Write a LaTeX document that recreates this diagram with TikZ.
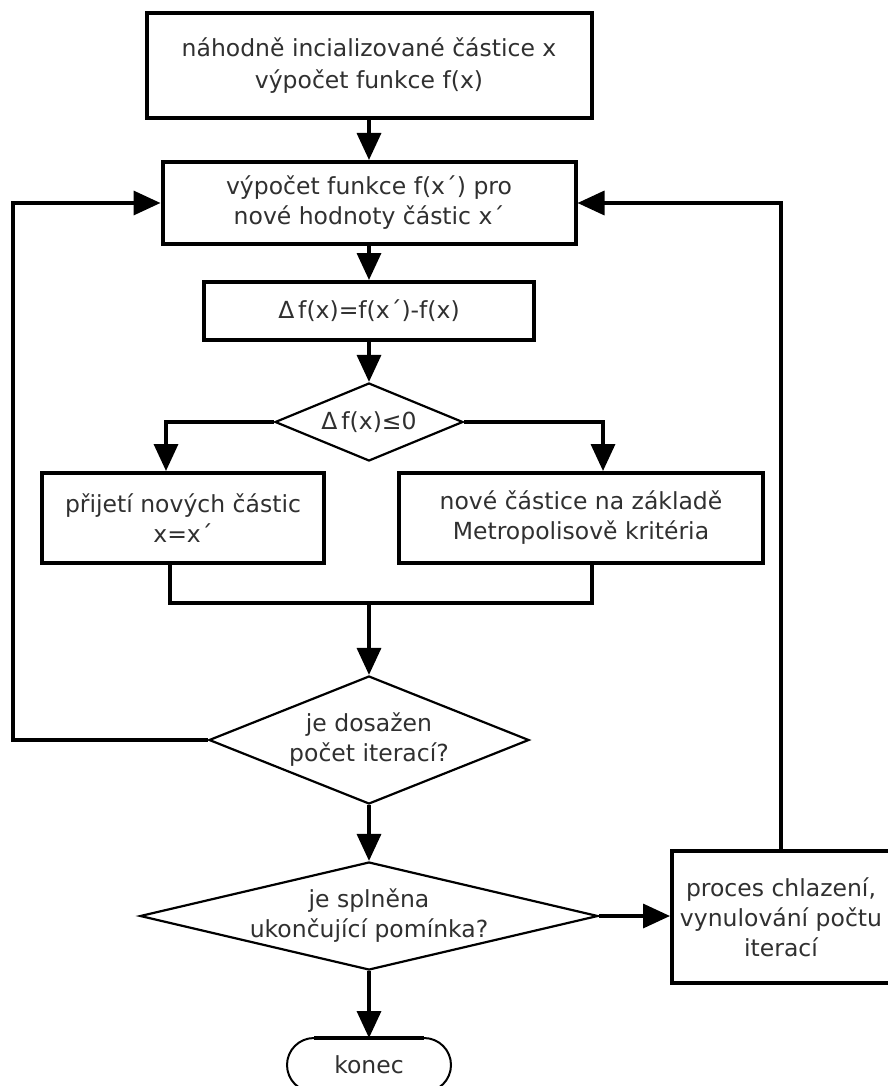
\documentclass[tikz,border=0pt]{standalone}
\usepackage{fontspec}
\setmainfont{DejaVu Sans}
\usetikzlibrary{arrows.meta,shapes.geometric}
\definecolor{txtcol}{RGB}{48,48,48}
\begin{document}
\begin{tikzpicture}[x=1pt,y=-1pt,
  every node/.style={font=\fontsize{23.5}{30}\selectfont, text=txtcol},
  box/.style={draw, line width=4pt, rectangle, align=center, inner sep=2pt},
  dia/.style={draw, line width=2.2pt, diamond, inner sep=0pt},
  conn/.style={line width=3.5pt},
  arr/.style={conn, -{Triangle[length=27pt,width=24pt]}},
]
\useasboundingbox (0,0) rectangle (888,1086);
\fill[white] (0,0) rectangle (888,1086);
\begin{scope}
\clip (0,0) rectangle (888,1086);
% boxes
\node[box, minimum width=445pt, minimum height=105pt, font=\fontsize{23.5}{32}\selectfont] (b1) at (369,65.5) {náhodně incializované částice x\\výpočet funkce f(x)};
\node[box, minimum width=413pt, minimum height=82pt] (b2) at (369,203) {výpočet funkce f(x´) pro\\nové hodnoty částic x´};
\node[box, minimum width=330pt, minimum height=58pt] (b3) at (369,311) {Δ\,f(x)=f(x´)-f(x)};
\node[dia, minimum width=188pt, minimum height=78pt] (d1) at (369,422) {};
\node (d1t) at (d1) {Δ\,f(x)≤0};
\node[box, minimum width=282pt, minimum height=90pt] (b4) at (183,518) {přijetí nových částic\\x=x´};
\node[box, minimum width=364pt, minimum height=90pt] (b5) at (581,518) {nové částice na základě\\Metropolisově kritéria};
\node[dia, minimum width=320pt, minimum height=128pt] (d2) at (369,740) {};
\node (d2t) at (d2) [align=center] {je dosažen\\počet iterací?};
\node[dia, minimum width=458pt, minimum height=108pt] (d3) at (369,916) {};
\node (d3t) at (d3) [align=center] {je splněna\\ukončující pomínka?};
\node[box, minimum width=218pt, minimum height=132pt] (r) at (781,917) {proces chlazení,\\vynulování počtu\\iterací};
\node[draw, line width=2pt, rectangle, rounded corners=27pt, minimum width=164pt, minimum height=54pt, inner sep=0pt, outer sep=0pt] (k) at (369,1065) {konec};
\draw[line width=4pt] ([xshift=27pt]k.north west) -- ([xshift=-27pt]k.north east);
% connectors
\draw[arr] (b1) -- (b2);
\draw[arr] (b2) -- (b3);
\draw[arr] (b3) -- (d1);
\draw[arr] (d1.west) -| ([xshift=-17pt]b4.north);
\draw[arr] (d1.east) -| ([xshift=22pt]b5.north);
\coordinate (m) at (369,603);
\draw[conn] ([xshift=-13pt]b4.south) |- (m);
\draw[conn] ([xshift=11pt]b5.south) |- (m);
\draw[arr] (m) -- (d2.north);
\coordinate (lc) at (13,203);
\draw[arr] (d2.west) -| (lc) -- (b2.west);
\draw[arr] (d2.south) -- (d3.north);
\draw[arr] (d3.east) -- (d3.east -| r.west);
\draw[arr] (r.north) |- (b2.east);
\draw[arr] (d3.south) -- (k.north);
\end{scope}
\end{tikzpicture}
\end{document}
